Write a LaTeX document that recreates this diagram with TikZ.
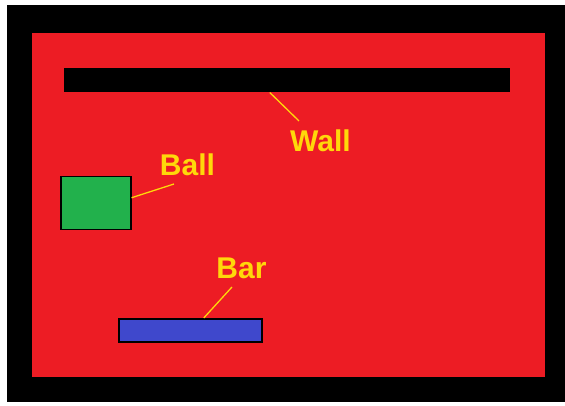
\documentclass[tikz,border=0pt]{standalone}
\usepackage{fontspec}
\setmainfont{Liberation Sans}
\definecolor{fieldred}{HTML}{ED1C24}
\definecolor{ballgreen}{HTML}{22B14C}
\definecolor{barblue}{HTML}{3F48CC}
\definecolor{tagyellow}{HTML}{FFD80A}
\tikzset{
  tag/.style={text=tagyellow, font=\bfseries\fontsize{30}{30}\selectfont, inner sep=0pt, anchor=base},
  leader/.style={draw=tagyellow, line width=1.3pt},
  block/.style={draw=black, line width=1.5pt, inner sep=0pt, anchor=north west}
}
\begin{document}
\begin{tikzpicture}[x=1pt, y=-1pt]
  % canvas
  \fill[white] (0,0) rectangle (565,406);
  \useasboundingbox (0,0) rectangle (565,406);
  % frame and playing field
  \fill[black] (7,5) rectangle (565,402);
  \fill[fieldred] (32,33) rectangle (545,377);
  % objects
  \node[block, fill=black, minimum width=444pt, minimum height=23pt] (wall) at (64,68) {};
  \node[block, fill=ballgreen, minimum width=70pt, minimum height=53pt] (ball) at (60,176) {};
  \node[block, fill=barblue, minimum width=143pt, minimum height=23pt] (bar) at (118,318) {};
  % labels
  \node[tag] (walltag) at (320.5,152) {Wall};
  \node[tag] (balltag) at (187.5,176) {Ball};
  \node[tag] (bartag) at (241.5,278) {Bar};
  % leader lines
  \coordinate (wallpt) at ([xshift=-17pt]wall.south);
  \coordinate (ballpt) at ([yshift=5.5pt]ball.east);
  \coordinate (barpt) at ([xshift=13.5pt]bar.north);
  \draw[leader] ([xshift=-21.5pt,yshift=31pt]walltag.base) -- (wallpt);
  \draw[leader] ([xshift=-13.5pt,yshift=-8pt]balltag.base) -- (ballpt);
  \draw[leader] ([xshift=-9.5pt,yshift=-9pt]bartag.base) -- (barpt);
\end{tikzpicture}
\end{document}
